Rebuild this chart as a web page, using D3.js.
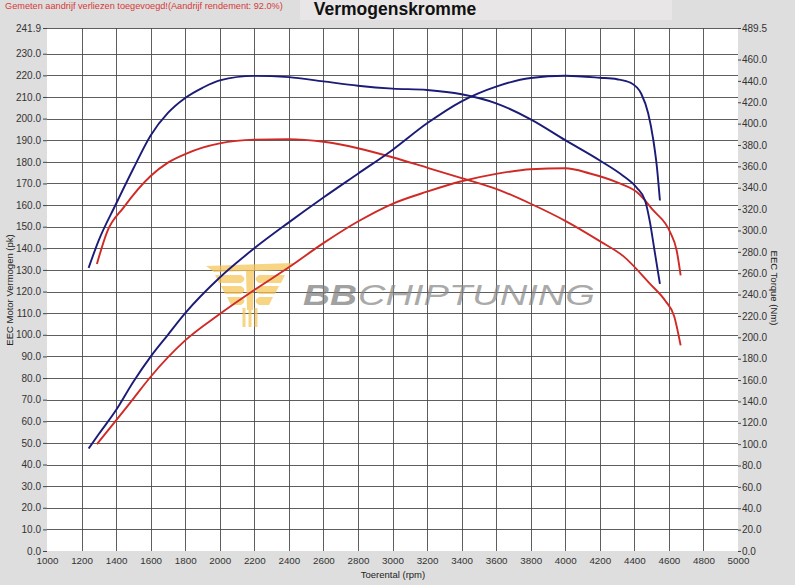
<!DOCTYPE html>
<html lang="nl">
<head>
<meta charset="UTF-8">
<title>Vermogenskromme</title>
<script src="https://d3js.org/d3.v7.min.js"></script>
<style>
  body { margin: 0; background: #dedede; }
  text { font-family: "Liberation Sans", Arial, sans-serif; }
</style>
</head>
<body>
<svg width="795" height="585"></svg>
<script>
// getuned koppel (Nm, rechter as)
var rpmTorqueTuned = [1241,1300,1400,1500,1600,1700,1800,1900,2000,2200,2400,2600,2800,3000,3200,3400,3600,3800,4000,4200,4336,4414,4462,4490,4515,4548];
var torqueTuned    = [265,291,325,358,389,410,424,433.5,440.5,444.7,443.5,439.5,435.5,432.8,431.5,427.5,419,404,384.5,365.5,351,340,328,308,283,250];

// getuned vermogen (pk, linker as)
var rpmPowerTuned = [1241,1300,1400,1500,1600,1700,1800,2000,2200,2400,2600,2800,3000,3200,3400,3600,3800,4000,4200,4300,4380,4440,4480,4510,4530,4548];
var powerTuned    = [47.4,54.1,65.2,78.3,89.9,100,110,126.5,140,152,163.5,174.5,185.5,197.8,208,214.8,218.8,219.8,218.9,218.2,216.5,211.5,202.5,190,178,162.1];

// origineel koppel
var rpmTorqueStock = [1289,1347,1444,1600,1700,1800,1900,2000,2200,2400,2600,2800,3000,3200,3400,3600,3800,4000,4200,4336,4491,4580,4630,4668];
var torqueStock    = [268.7,298.3,321.6,351,363.5,371.5,377.5,381.5,385,385.5,383,377,368.5,358.8,349,339,325,309,290,276,250,234,220,192.4];

// origineel vermogen
var rpmPowerStock = [1289,1386,1500,1600,1800,2000,2200,2400,2600,2800,3000,3200,3400,3600,3800,4000,4143,4297,4414,4510,4607,4645,4668];
var powerStock    = [49.4,59,70.5,80.6,97.4,109.6,120.7,131.2,142.4,152.4,160.6,166.2,171,174.4,176.6,177,174.6,170.6,166,157.5,147.5,139,127.5];

// as-labels
var rpmTicks = d3.range(1000, 5001, 200);
var pkTicks = d3.range(0, 231, 10).concat([241.9]);
var nmTicks = d3.range(0, 461, 20).concat([489.5]);

var svg = d3.select('svg');

var x = d3.scaleLinear().domain([1000, 5000]).range([47, 738]);
var yL = d3.scaleLinear().domain([0, 241.9]).range([551, 28]);
var yR = d3.scaleLinear().domain([0, 489.5]).range([551, 28]);

// lichtere balk achter de titel
svg.append('rect').attr('x', 300).attr('y', 0).attr('width', 372).attr('height', 20).attr('fill', '#e8e6e6');

svg.append('text').attr('x', 5).attr('y', 9)
    .attr('font-size', 9.2).attr('fill', '#d43a3a')
    .text('Gemeten aandrijf verliezen toegevoegd!(Aandrijf rendement: 92.0%)');

svg.append('text').attr('x', 395).attr('y', 15)
    .attr('text-anchor', 'middle').attr('font-size', 17.5).attr('font-weight', 'bold')
    .attr('fill', '#111')
    .text('Vermogenskromme');

// plotvlak
svg.append('rect').attr('x', 47).attr('y', 28).attr('width', 691).attr('height', 523).attr('fill', '#fff');

var grid = svg.append('g').attr('stroke', '#4c4c4c').attr('stroke-width', 0.9);
grid.selectAll('.h').data(pkTicks.filter(function (d) { return d > 0; })).enter()
    .append('line')
    .attr('x1', 47).attr('x2', 738)
    .attr('y1', function (d) { return Math.round(yL(d)) + 0.5; })
    .attr('y2', function (d) { return Math.round(yL(d)) + 0.5; });
grid.selectAll('.v').data(rpmTicks.filter(function (d) { return d > 1000 && d < 5000; })).enter()
    .append('line')
    .attr('y1', 28).attr('y2', 551)
    .attr('x1', function (d) { return Math.round(x(d)) + 0.5; })
    .attr('x2', function (d) { return Math.round(x(d)) + 0.5; });

// watermerk
var wm = svg.append('g').attr('opacity', 0.72);
var gold = '#f6c457';
wm.append('path').attr('fill', gold)
    .attr('d', 'M206,266 L294,263 L288,270 L214,272 Z');
[275, 286, 297].forEach(function (yy, i) {
    var w = 30 - i * 6;
    wm.append('path').attr('fill', gold)
        .attr('d', 'M' + (245 - w) + ',' + yy + ' L241,' + yy + ' Q248,' + (yy + 4) + ' 241,' + (yy + 8) + ' L' + (249 - w) + ',' + (yy + 8) + ' Z');
    wm.append('path').attr('fill', gold)
        .attr('d', 'M' + (255 + w) + ',' + yy + ' L259,' + yy + ' Q252,' + (yy + 4) + ' 259,' + (yy + 8) + ' L' + (251 + w) + ',' + (yy + 8) + ' Z');
});
wm.append('path').attr('fill', gold).attr('d', 'M246,270 L254,270 L253,310 L247,310 Z');
[244, 250, 256].forEach(function (xx) {
    wm.append('rect').attr('fill', gold).attr('x', xx - 1.5).attr('y', 308).attr('width', 3).attr('height', 19);
});
wm.append('text').attr('x', 303).attr('y', 305)
    .attr('font-size', 30).attr('font-weight', 'bold').attr('font-style', 'italic')
    .attr('fill', '#7d7d7d')
    .attr('textLength', 54).attr('lengthAdjust', 'spacingAndGlyphs')
    .text('BB');
wm.append('text').attr('x', 358).attr('y', 305)
    .attr('font-size', 30).attr('font-style', 'italic')
    .attr('fill', '#8a8a8a')
    .attr('textLength', 237).attr('lengthAdjust', 'spacingAndGlyphs')
    .text('CHIPTUNING');

// curves
function drawCurve(rpms, vals, yScale, color) {
    var pts = rpms.map(function (r, i) { return [r, vals[i]]; });
    var line = d3.line()
        .x(function (d) { return x(d[0]); })
        .y(function (d) { return yScale(d[1]); })
        .curve(d3.curveMonotoneX);
    svg.append('path').datum(pts)
        .attr('fill', 'none').attr('stroke', color).attr('stroke-width', 1.9)
        .attr('stroke-linejoin', 'round')
        .attr('d', line);
}
drawCurve(rpmTorqueStock, torqueStock, yR, '#d02a26');
drawCurve(rpmPowerStock, powerStock, yL, '#d02a26');
drawCurve(rpmTorqueTuned, torqueTuned, yR, '#1b1b78');
drawCurve(rpmPowerTuned, powerTuned, yL, '#1b1b78');

// assen
var axL = svg.append('g').attr('transform', 'translate(47,0)')
    .call(d3.axisLeft(yL).tickValues(pkTicks).tickSize(4).tickPadding(2).tickFormat(d3.format('.1f')));
var axR = svg.append('g').attr('transform', 'translate(738,0)')
    .call(d3.axisRight(yR).tickValues(nmTicks).tickSize(3).tickPadding(1).tickFormat(d3.format('.1f')));
var axB = svg.append('g').attr('transform', 'translate(0,551)')
    .call(d3.axisBottom(x).tickValues(rpmTicks).tickSize(0).tickPadding(6).tickFormat(d3.format('d')));
[axL, axR, axB].forEach(function (a) {
    a.select('.domain').remove();
    a.selectAll('text').attr('font-family', '"Liberation Sans", Arial, sans-serif').attr('fill', '#333');
    a.selectAll('line').attr('stroke', '#444');
});
axL.selectAll('text').attr('font-size', 10);
axR.selectAll('text').attr('font-size', 10);
axB.selectAll('text').attr('font-size', 9.8);

svg.append('text').attr('transform', 'translate(13,290) rotate(-90)')
    .attr('text-anchor', 'middle').attr('font-size', 9.5).attr('fill', '#222')
    .text('EEC Motor Vermogen (pk)');
svg.append('text').attr('transform', 'translate(771,288) rotate(90)')
    .attr('text-anchor', 'middle').attr('font-size', 9.5).attr('fill', '#222')
    .text('EEC Torque (Nm)');
svg.append('text').attr('x', 393).attr('y', 578)
    .attr('text-anchor', 'middle').attr('font-size', 9.5).attr('fill', '#222')
    .text('Toerental (rpm)');
</script>
</body>
</html>
